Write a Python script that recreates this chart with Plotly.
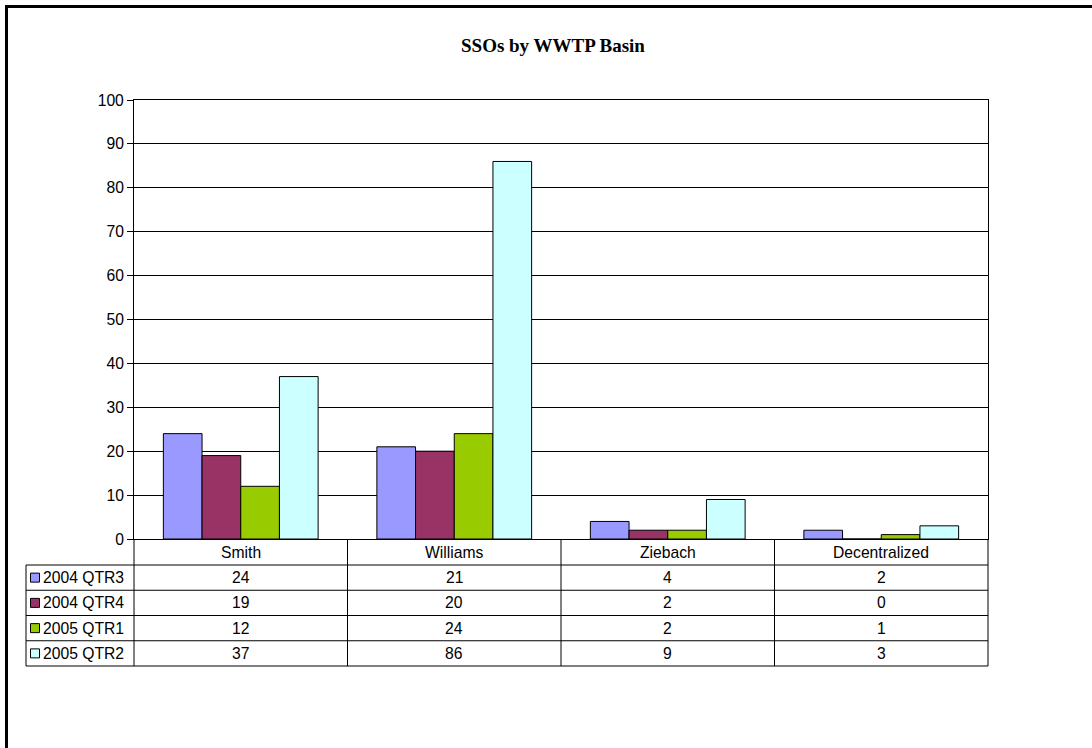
import plotly.graph_objects as go

# ---- data ----
categories = ["Smith", "Williams", "Ziebach", "Decentralized"]
series_names = ["2004 QTR3", "2004 QTR4", "2005 QTR1", "2005 QTR2"]
q3_2004 = [24, 21, 4, 2]
q4_2004 = [19, 20, 2, 0]
q1_2005 = [12, 24, 2, 1]
q2_2005 = [37, 86, 9, 3]
series_values = [q3_2004, q4_2004, q1_2005, q2_2005]
colors = ["#9999FF", "#993366", "#99CC00", "#CCFFFF"]
title_text = "SSOs by WWTP Basin"

# ---- layout geometry (pixels) ----
W, H = 1092, 748
PL, PR, PT, PB = 134, 988, 100, 539
PW, PH = PR - PL, PB - PT


def xp(px):
    return (px - PL) / PW


def yp(py):
    return (PB - py) / PH


FONT = "Liberation Sans, Arial, sans-serif"
FS = 15.7

fig = go.Figure()
for name, vals, col in zip(series_names, series_values, colors):
    fig.add_trace(go.Bar(
        x=categories, y=vals, name=name,
        marker=dict(color=col, line=dict(color="black", width=1)),
        showlegend=False,
    ))

shapes = []
annotations = []

# outer chart frame
shapes.append(dict(type="rect", xref="paper", yref="paper",
                   x0=xp(6.5), x1=xp(1110), y0=yp(6.5), y1=yp(770),
                   line=dict(color="black", width=3), fillcolor="rgba(0,0,0,0)"))

# data table
row_top = 565
row_h = 25.25
n_rows = len(series_names)
table_bottom = row_top + n_rows * row_h
legend_left = 26
col_w = PW / len(categories)

line_style = dict(color="black", width=1)
# horizontal lines
for k in range(n_rows + 1):
    y = row_top + k * row_h
    shapes.append(dict(type="line", xref="paper", yref="paper",
                       x0=xp(legend_left), x1=xp(PR), y0=yp(y), y1=yp(y),
                       line=line_style))
# vertical lines
shapes.append(dict(type="line", xref="paper", yref="paper",
                   x0=xp(legend_left), x1=xp(legend_left),
                   y0=yp(row_top), y1=yp(table_bottom), line=line_style))
for i in range(len(categories) + 1):
    x = PL + i * col_w
    shapes.append(dict(type="line", xref="paper", yref="paper",
                       x0=xp(x), x1=xp(x), y0=yp(PB), y1=yp(table_bottom),
                       line=line_style))

# category header text
for i, cat in enumerate(categories):
    annotations.append(dict(xref="paper", yref="paper",
                            x=xp(PL + (i + 0.5) * col_w), y=yp((PB + row_top) / 2),
                            text=cat, showarrow=False,
                            font=dict(family=FONT, size=FS, color="black"),
                            xanchor="center", yanchor="middle"))

# rows: legend key + series name + values
for r, (name, vals, col) in enumerate(zip(series_names, series_values, colors)):
    cy = row_top + (r + 0.5) * row_h
    shapes.append(dict(type="rect", xref="paper", yref="paper",
                       x0=xp(30.5), x1=xp(39.5), y0=yp(cy - 4.5), y1=yp(cy + 4.5),
                       fillcolor=col, line=dict(color="black", width=1)))
    annotations.append(dict(xref="paper", yref="paper",
                            x=xp(41), y=yp(cy), text=name, showarrow=False,
                            font=dict(family=FONT, size=FS, color="black"),
                            xanchor="left", yanchor="middle"))
    for i, v in enumerate(vals):
        annotations.append(dict(xref="paper", yref="paper",
                                x=xp(PL + (i + 0.5) * col_w), y=yp(cy),
                                text=str(v), showarrow=False,
                                font=dict(family=FONT, size=FS, color="black"),
                                xanchor="center", yanchor="middle"))

# title
annotations.append(dict(xref="paper", yref="paper", x=xp(553), y=yp(45),
                        text="<b>" + title_text + "</b>", showarrow=False,
                        font=dict(family="Liberation Serif, Times New Roman, serif",
                                  size=19, color="black"),
                        xanchor="center", yanchor="middle"))

fig.update_layout(
    width=W, height=H,
    margin=dict(l=PL, r=W - PR, t=PT, b=H - PB, pad=0),
    paper_bgcolor="white", plot_bgcolor="white",
    barmode="group", bargap=0.275, bargroupgap=0,
    shapes=shapes, annotations=annotations,
    font=dict(family=FONT, size=FS, color="black"),
    xaxis=dict(showticklabels=False, ticks="", showgrid=False,
               showline=True, linecolor="black", linewidth=1, mirror=True,
               zeroline=False),
    yaxis=dict(range=[0, 100], dtick=10, tick0=0, showgrid=True,
               gridcolor="black", gridwidth=1, ticks="outside", ticklen=6,
               tickcolor="black", showline=True, linecolor="black",
               linewidth=1, mirror=True, zeroline=False,
               tickfont=dict(family=FONT, size=FS, color="black")),
)

fig.write_html("out.html")
